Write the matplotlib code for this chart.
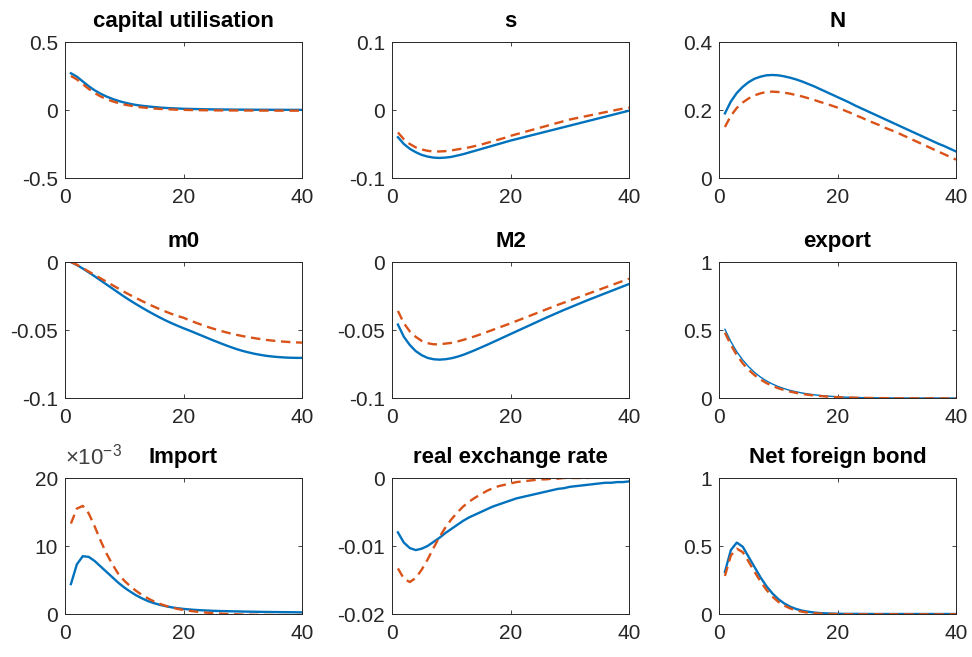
import numpy as np
import matplotlib
matplotlib.use('Agg')
import matplotlib.pyplot as plt

plt.rcParams['font.family'] = ['Liberation Sans', 'DejaVu Sans']
plt.rcParams['mathtext.fontset'] = 'custom'
plt.rcParams['mathtext.rm'] = 'Liberation Sans'

# horizon des reponses impulsionnelles
periods = np.arange(1, 41)

# capital utilisation
cap_base = [0.27, 0.245, 0.21, 0.175, 0.145, 0.12, 0.099, 0.082, 0.067, 0.055,
            0.045, 0.037, 0.031, 0.026, 0.022, 0.018, 0.015, 0.013, 0.011, 0.009,
            0.008, 0.007, 0.006, 0.005, 0.0045, 0.004, 0.0035, 0.003, 0.0028, 0.0025,
            0.0023, 0.002, 0.0018, 0.0017, 0.0015, 0.0014, 0.0013, 0.0012, 0.0011, 0.001]
cap_alt = [0.25, 0.225, 0.19, 0.155, 0.125, 0.1, 0.08, 0.064, 0.051, 0.04,
           0.032, 0.025, 0.019, 0.015, 0.011, 0.008, 0.006, 0.004, 0.002, 0.001,
           0.0, -0.001, -0.0015, -0.002, -0.0025, -0.003, -0.003, -0.0035, -0.0035, -0.004,
           -0.004, -0.004, -0.0045, -0.0045, -0.0045, -0.005, -0.005, -0.005, -0.005, -0.005]

# s
s_base = [-0.040, -0.050, -0.057, -0.062, -0.066, -0.0685, -0.070, -0.0705, -0.070, -0.069,
          -0.067, -0.065, -0.0625, -0.060, -0.0575, -0.055, -0.0525, -0.050, -0.0475, -0.045,
          -0.0428, -0.0406, -0.0384, -0.0362, -0.034, -0.0318, -0.0296, -0.0274, -0.0252, -0.023,
          -0.0208, -0.0186, -0.0164, -0.0142, -0.012, -0.0098, -0.0076, -0.0054, -0.0032, -0.001]
s_alt = [-0.033, -0.043, -0.050, -0.055, -0.058, -0.060, -0.061, -0.061, -0.0605, -0.0595,
         -0.058, -0.0565, -0.055, -0.053, -0.051, -0.0485, -0.046, -0.0435, -0.041, -0.038,
         -0.0356, -0.0332, -0.0308, -0.0284, -0.026, -0.0236, -0.0212, -0.0188, -0.0164, -0.014,
         -0.0122, -0.0104, -0.0086, -0.0068, -0.005, -0.0032, -0.0014, 0.0004, 0.002, 0.0035]

# N
n_base = [0.190, 0.225, 0.250, 0.268, 0.282, 0.292, 0.298, 0.302, 0.303, 0.302,
          0.299, 0.295, 0.290, 0.284, 0.277, 0.270, 0.262, 0.254, 0.246, 0.238,
          0.230, 0.222, 0.213, 0.205, 0.197, 0.189, 0.181, 0.173, 0.165, 0.157,
          0.149, 0.141, 0.133, 0.125, 0.117, 0.109, 0.101, 0.094, 0.086, 0.078]
n_alt = [0.150, 0.183, 0.206, 0.222, 0.234, 0.243, 0.249, 0.253, 0.254, 0.253,
         0.251, 0.248, 0.244, 0.240, 0.235, 0.230, 0.224, 0.219, 0.213, 0.207,
         0.200, 0.193, 0.185, 0.178, 0.170, 0.163, 0.156, 0.148, 0.141, 0.134,
         0.126, 0.118, 0.110, 0.102, 0.094, 0.086, 0.078, 0.070, 0.062, 0.054]

# m0
m0_base = [0.0, -0.0022, -0.0048, -0.0076, -0.0105, -0.0135, -0.0165, -0.0195, -0.0225, -0.0255,
           -0.0283, -0.031, -0.0336, -0.0361, -0.0385, -0.0408, -0.043, -0.045, -0.0469, -0.0487,
           -0.0504, -0.0522, -0.054, -0.0558, -0.0576, -0.0593, -0.061, -0.0626, -0.0641, -0.0654,
           -0.0665, -0.0675, -0.0683, -0.069, -0.0695, -0.0699, -0.0702, -0.0704, -0.0705, -0.0705]
m0_alt = [0.0, -0.002, -0.0045, -0.007, -0.0095, -0.012, -0.0145, -0.017, -0.0195, -0.022,
          -0.0243, -0.0265, -0.0287, -0.0308, -0.0328, -0.0347, -0.0365, -0.0382, -0.0397, -0.041,
          -0.0428, -0.0445, -0.0461, -0.0476, -0.049, -0.0503, -0.0515, -0.0526, -0.0536, -0.0545,
          -0.0553, -0.056, -0.0567, -0.0573, -0.0578, -0.0582, -0.0586, -0.0589, -0.0591, -0.0593]

# M2
m2_base = [-0.046, -0.055, -0.061, -0.0655, -0.0685, -0.0705, -0.0715, -0.0718, -0.0715, -0.0708,
           -0.0697, -0.0683, -0.0666, -0.0648, -0.0629, -0.061, -0.059, -0.057, -0.055, -0.053,
           -0.051, -0.049, -0.047, -0.045, -0.043, -0.041, -0.0391, -0.0372, -0.0353, -0.0335,
           -0.0317, -0.0299, -0.0281, -0.0264, -0.0247, -0.023, -0.0213, -0.0196, -0.0179, -0.0162]
m2_alt = [-0.036, -0.045, -0.051, -0.055, -0.058, -0.0597, -0.0605, -0.0605, -0.060, -0.0595,
          -0.0585, -0.0573, -0.056, -0.0546, -0.0531, -0.0515, -0.0499, -0.0483, -0.0467, -0.0451,
          -0.0434, -0.0417, -0.040, -0.0383, -0.0366, -0.0349, -0.0332, -0.0315, -0.0299, -0.0283,
          -0.0267, -0.0251, -0.0235, -0.0219, -0.0203, -0.0187, -0.0171, -0.0155, -0.0139, -0.0123]

# export
exp_base = [0.505, 0.415, 0.34, 0.28, 0.23, 0.188, 0.154, 0.126, 0.103, 0.084,
            0.069, 0.056, 0.046, 0.037, 0.030, 0.024, 0.019, 0.015, 0.012, 0.009,
            0.007, 0.005, 0.004, 0.003, 0.002, 0.0015, 0.001, 0.0008, 0.0005, 0.0003,
            0.0002, 0.0001, 0.0, 0.0, 0.0, 0.0, 0.0, 0.0, 0.0, 0.0]
exp_alt = [0.48, 0.39, 0.315, 0.255, 0.207, 0.168, 0.136, 0.11, 0.089, 0.072,
           0.058, 0.047, 0.038, 0.030, 0.024, 0.019, 0.015, 0.011, 0.008, 0.006,
           0.004, 0.003, 0.002, 0.001, 0.0005, 0.0, -0.0005, -0.001, -0.0015, -0.002,
           -0.002, -0.0025, -0.0025, -0.003, -0.003, -0.003, -0.003, -0.003, -0.003, -0.003]

# Import (x 1e-3)
imp_base = [4.4, 7.3, 8.5, 8.4, 7.8, 7.0, 6.2, 5.4, 4.6, 3.9,
            3.3, 2.75, 2.3, 1.9, 1.6, 1.35, 1.15, 0.98, 0.85, 0.75,
            0.67, 0.6, 0.55, 0.51, 0.47, 0.44, 0.42, 0.4, 0.38, 0.36,
            0.345, 0.33, 0.315, 0.3, 0.29, 0.28, 0.27, 0.26, 0.25, 0.24]
imp_alt = [13.3, 15.5, 15.9, 14.8, 12.9, 10.8, 8.9, 7.3, 5.9, 4.9,
           4.1, 3.4, 2.8, 2.3, 1.85, 1.5, 1.2, 0.95, 0.75, 0.6,
           0.47, 0.36, 0.27, 0.19, 0.12, 0.07, 0.02, -0.02, -0.05, -0.08,
           -0.1, -0.12, -0.13, -0.14, -0.15, -0.15, -0.16, -0.16, -0.16, -0.16]

# real exchange rate
rer_base = [-0.0080, -0.0095, -0.0103, -0.0106, -0.0104, -0.0100, -0.0094, -0.0088, -0.0081, -0.0075,
            -0.0069, -0.0063, -0.0058, -0.0054, -0.0050, -0.0046, -0.0042, -0.0039, -0.0036, -0.0033,
            -0.0030, -0.0028, -0.0026, -0.0024, -0.0022, -0.0020, -0.0018, -0.0016, -0.0015, -0.0013,
            -0.0012, -0.0011, -0.0010, -0.0009, -0.0008, -0.0007, -0.0007, -0.0006, -0.0006, -0.0005]
rer_alt = [-0.0133, -0.0148, -0.0153, -0.0147, -0.0135, -0.0120, -0.0103, -0.0087, -0.0073, -0.0061,
           -0.0051, -0.0042, -0.0035, -0.0029, -0.0024, -0.0019, -0.0015, -0.0012, -0.0010, -0.0008,
           -0.0006, -0.0005, -0.0004, -0.0003, -0.0002, -0.0002, -0.0001, -0.0001, 0.0, 0.0,
           0.0, 0.0, 0.0, 0.0001, 0.0001, 0.0001, 0.0001, 0.0001, 0.0001, 0.0001]

# Net foreign bond
nfb_base = [0.31, 0.47, 0.525, 0.495, 0.42, 0.345, 0.27, 0.205, 0.152, 0.11,
            0.078, 0.054, 0.037, 0.025, 0.017, 0.011, 0.007, 0.005, 0.003, 0.002,
            0.001, 0.001, 0.001, 0.0005, 0.0005, 0.0, 0.0, 0.0, 0.0, 0.0,
            0.0, 0.0, 0.0, 0.0, 0.0, 0.0, 0.0, 0.0, 0.0, 0.0]
nfb_alt = [0.28, 0.43, 0.48, 0.455, 0.385, 0.31, 0.24, 0.178, 0.128, 0.09,
           0.062, 0.041, 0.027, 0.017, 0.010, 0.006, 0.003, 0.001, 0.0, -0.001,
           -0.001, -0.0015, -0.0015, -0.002, -0.002, -0.002, -0.002, -0.002, -0.002, -0.002,
           -0.002, -0.002, -0.002, -0.002, -0.002, -0.002, -0.002, -0.002, -0.002, -0.002]

titles = ['capital utilisation', 's', 'N', 'm0', 'M2', 'export',
          'Import', 'real exchange rate', 'Net foreign bond']
base_series = [cap_base, s_base, n_base, m0_base, m2_base, exp_base, imp_base, rer_base, nfb_base]
alt_series = [cap_alt, s_alt, n_alt, m0_alt, m2_alt, exp_alt, imp_alt, rer_alt, nfb_alt]
ylims = [(-0.5, 0.5), (-0.1, 0.1), (0, 0.4), (-0.1, 0), (-0.1, 0), (0, 1),
         (0, 20), (-0.02, 0), (0, 1)]
yticks = [[-0.5, 0, 0.5], [-0.1, 0, 0.1], [0, 0.2, 0.4], [-0.1, -0.05, 0], [-0.1, -0.05, 0],
          [0, 0.5, 1], [0, 10, 20], [-0.02, -0.01, 0], [0, 0.5, 1]]
yticklabels = [['-0.5', '0', '0.5'], ['-0.1', '0', '0.1'], ['0', '0.2', '0.4'],
               ['-0.1', '-0.05', '0'], ['-0.1', '-0.05', '0'], ['0', '0.5', '1'],
               ['0', '10', '20'], ['-0.02', '-0.01', '0'], ['0', '0.5', '1']]

blue = '#0072BD'
orange = '#D95319'
axcol = '#262626'

W, H = 972, 657
lefts = [65, 392, 719]
tops = [42, 262, 478]
aw, ah = 237, 136

fig = plt.figure(figsize=(W / 100, H / 100), dpi=100)
for k in range(9):
    r, c = divmod(k, 3)
    ax = fig.add_axes([lefts[c] / W, 1 - (tops[r] + ah) / H, aw / W, ah / H])
    lw_b = 1.0 if titles[k] == 'export' else 1.7
    ax.plot(periods, base_series[k], color=blue, lw=lw_b)
    ax.plot(periods, alt_series[k], color=orange, lw=1.7, linestyle=(0, (4, 2.4)))
    ax.set_xlim(0, 40)
    ax.set_ylim(*ylims[k])
    ax.set_xticks([0, 20, 40])
    ax.set_xticklabels(['0', '20', '40'])
    ax.set_yticks(yticks[k])
    ax.set_yticklabels(yticklabels[k])
    ax.tick_params(direction='in', length=3, width=0.6, colors=axcol, labelsize=15,
                   top=True, right=True)
    ax.tick_params(axis='x', pad=7)
    ax.tick_params(axis='y', pad=5)
    for sp in ax.spines.values():
        sp.set_color(axcol)
        sp.set_linewidth(0.7)
    ax.set_title(titles[k], fontsize=16, fontweight='bold', pad=11)
    if titles[k] == 'Import':
        # facteur d'echelle de l'axe des ordonnees
        ax.text(0.0, 1.0 + 8 / ah, '×10$^{-3}$', transform=ax.transAxes, fontsize=16,
                color='#404040', ha='left', va='bottom')

fig.savefig('out.png', dpi=100)
